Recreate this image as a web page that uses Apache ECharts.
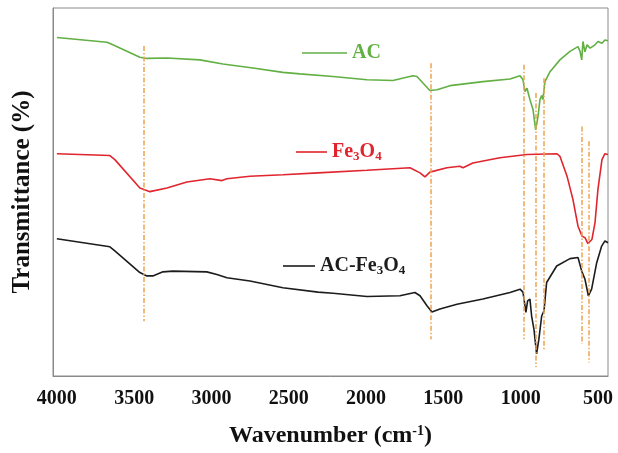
<!DOCTYPE html>
<html>
<head>
<meta charset="utf-8">
<script src="https://cdn.jsdelivr.net/npm/echarts@6/dist/echarts.min.js"></script>
<style>html,body{margin:0;padding:0;background:#fff}#c{width:618px;height:453px}</style>
</head>
<body>
<div id="c"></div>
<script>
// Wavenumber (cm-1) and transmittance (arbitrary, offset) for each spectrum
const acWn = [4000,3676,3638,3463,3418,3288,3075,2926,2732,2538,2428,2214,1994,1826,1697,1671,1632,1587,1541,1457,1244,1069,1004,985,972,959,940,920,903,888,875,864,856,843,810,746,681,629,616,605,597,584,571,551,519,500,474,455,435];
const acT  = [92.0,90.7,90.0,86.6,86.3,86.4,85.9,84.8,83.7,82.5,82.1,81.4,80.5,80.3,81.6,81.4,79.6,77.6,77.8,78.9,80.0,80.7,81.6,80.5,77.3,78.2,75.1,72.4,66.9,70.5,75.1,76.2,75.1,80.0,82.7,85.9,88.2,89.5,88.2,85.9,90.9,88.1,90.0,89.1,90.0,90.9,90.4,91.3,91.1];

const feWn = [4000,3657,3625,3463,3398,3288,3159,3010,2932,2900,2751,2538,2311,1994,1716,1651,1619,1587,1477,1393,1373,1309,1134,959,765,746,700,662,629,603,584,565,539,519,500,474,455,435];
const feT  = [60.4,59.9,58.8,51.1,50.1,51.1,52.7,53.6,53.1,53.6,54.3,54.7,55.2,55.9,56.6,55.2,54.1,55.4,56.6,57.0,56.6,57.9,59.3,60.2,60.4,59.7,54.3,48.0,40.7,38.0,37.6,36.0,37.1,41.7,50.7,58.8,60.4,60.2];

const acfeWn = [4000,3657,3625,3463,3418,3379,3314,3250,3030,2965,2900,2751,2538,2311,2214,1994,1781,1684,1651,1606,1574,1522,1412,1244,1069,1004,985,966,955,940,929,914,897,882,864,849,832,767,681,629,605,584,562,541,508,476,455,435];
const acfeT  = [37.3,35.1,34.0,28.1,27.2,27.2,28.3,28.5,28.3,27.6,26.7,25.8,24.0,22.8,22.5,21.6,21.8,22.7,21.8,19.1,17.4,18.2,19.5,20.9,22.7,23.6,22.8,17.3,20.4,20.9,16.3,12.7,6.0,10.0,16.3,17.7,25.4,29.9,31.9,32.2,28.5,26.3,21.8,23.6,30.8,35.3,36.7,36.2];

// Band marker positions (cm-1) and their vertical extents
const markerWn     = [3437,1583,977,903,849,602,561];
const markerTop    = [89.7,85.0,84.6,76.9,80.9,67.8,63.8];
const markerBottom = [14.9,10.0,10.0,2.4,6.9,8.7,3.7];

const xTicks = [500,1000,1500,2000,2500,3000,3500,4000];
const seriesNames = ['AC','Fe3O4','AC-Fe3O4'];

const zip = (a,b) => a.map((v,i)=>[v,b[i]]);
const serif = '"Liberation Serif","Times New Roman",serif';
const colors = {AC:'#62b043', 'Fe3O4':'#e0252e', 'AC-Fe3O4':'#1c1c1c'};

function legendFor(name, left, top, w, size) {
  return {
    data:[name], left:left, top:top, padding:0, itemWidth:w, itemHeight:1.6, itemGap:0,
    icon:'rect', selectedMode:false,
    formatter: n => n === 'AC' ? '{a|AC}' : n === 'Fe3O4' ? '{a|Fe}{s|3}{a|O}{s|4}' : '{a|AC-Fe}{s|3}{a|O}{s|4}',
    textStyle:{
      color: colors[name],
      rich:{
        a:{fontFamily:serif, fontWeight:'bold', fontSize:size, color:colors[name], lineHeight:22},
        s:{fontFamily:serif, fontWeight:'bold', fontSize:Math.round(size*0.65), color:colors[name], verticalAlign:'bottom'}
      }
    }
  };
}

const chart = echarts.init(document.getElementById('c'), null, {renderer:'canvas'});
chart.setOption({
  animation:false,
  backgroundColor:'#fff',
  grid:{left:53, right:10, top:8, bottom:76, show:true, borderColor:'#8a8a8a', borderWidth:1},
  legend:[
    legendFor('AC', 302, 43, 45, 20),
    legendFor('Fe3O4', 296, 142, 31, 20),
    legendFor('AC-Fe3O4', 283, 256, 32, 20)
  ],
  xAxis:{
    type:'value', inverse:true, min:435, max:4025, splitNumber:7,
    name:'{a|Wavenumber (cm}{s|-1}{a|)}', nameLocation:'middle', nameGap:48,
    nameTextStyle:{rich:{
      a:{fontFamily:serif, fontWeight:'bold', fontSize:24, color:'#111'},
      s:{fontFamily:serif, fontWeight:'bold', fontSize:14, color:'#111', verticalAlign:'top', padding:[0,0,8,0]}
    }},
    axisLine:{show:true, lineStyle:{color:'#8a8a8a', width:1}},
    axisTick:{show:false},
    splitLine:{show:false},
    axisLabel:{
      margin:13, fontFamily:serif, fontWeight:'bold', fontSize:20, color:'#111',
      showMinLabel:false, showMaxLabel:false,
      formatter: v => xTicks.includes(v) ? String(v) : ''
    }
  },
  yAxis:{
    type:'value', min:0, max:100,
    name:'Transmittance (%)', nameLocation:'middle', nameGap:18,
    nameTextStyle:{fontFamily:serif, fontWeight:'bold', fontSize:25, color:'#111'},
    axisLine:{show:true, lineStyle:{color:'#8a8a8a', width:1}},
    axisTick:{show:false}, axisLabel:{show:false}, splitLine:{show:false}
  },
  series:[
    {name:'AC-Fe3O4', type:'line', data:zip(acfeWn, acfeT), showSymbol:false, smooth:false,
     lineStyle:{color:colors['AC-Fe3O4'], width:1.6}, itemStyle:{color:colors['AC-Fe3O4']}},
    {name:'Fe3O4', type:'line', data:zip(feWn, feT), showSymbol:false,
     lineStyle:{color:colors['Fe3O4'], width:1.6}, itemStyle:{color:colors['Fe3O4']}},
    {name:'AC', type:'line', data:zip(acWn, acT), showSymbol:false,
     lineStyle:{color:colors.AC, width:1.6}, itemStyle:{color:colors.AC}},
    {name:'markers', type:'line', data:[], silent:true, z:5,
     markLine:{
       silent:true, symbol:['none','none'], label:{show:false}, animation:false,
       lineStyle:{color:'#f0a350', width:1.5, type:[5,2,1.5,2]},
       data: markerWn.map((w,i)=>[{coord:[w, markerTop[i]]},{coord:[w, markerBottom[i]]}])
     }}
  ]
});
</script>
</body>
</html>
